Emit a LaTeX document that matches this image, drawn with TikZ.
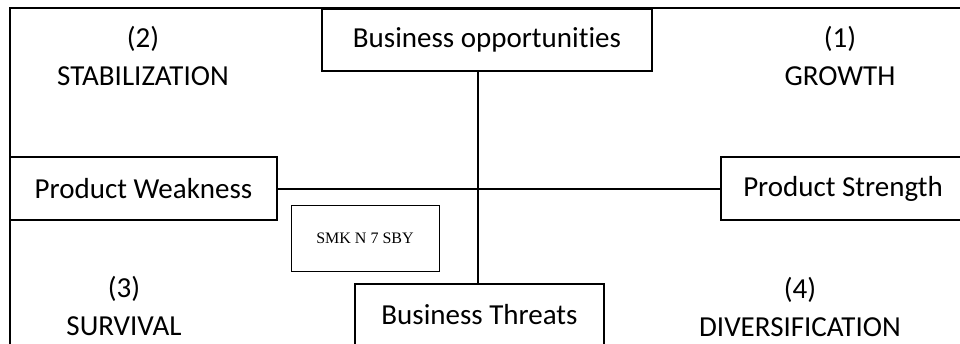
\documentclass[tikz,border=0pt]{standalone}
\usepackage{fontspec}
\setmainfont[Ligatures=NoCommon]{Carlito}
\newfontfamily\serifsmall{Liberation Serif}
\begin{document}
\begin{tikzpicture}[x=1pt,y=-1pt,
  box/.style={draw,line width=2pt,inner sep=0pt,font=\fontsize{29}{33}\selectfont},
  lbl/.style={align=center,inner sep=0pt,font=\fontsize{29}{38}\selectfont},
  line/.style={line width=2pt}]
\useasboundingbox (0,0) rectangle (960,343);
\clip (0,0) rectangle (960,343);
\coordinate (fb) at (10,400);
\coordinate (ftl) at (10,7.5);
\coordinate (ftr) at (1000,7.5);
\draw[line] (fb) -- (ftl) -- (ftr);
\node[box,minimum width=330pt,minimum height=62pt] (opp) at (487,40) {Business opportunities};
\node[box,minimum width=267pt,minimum height=63pt] (weak) at (143.5,188.5) {Product Weakness};
\node[box,minimum width=244pt,minimum height=63pt] (str) at (843,188.5) {Product Strength};
\node[box,minimum width=249pt,minimum height=62pt] (thr) at (479.5,315) {Business Threats};
\node[draw,line width=0.8pt,minimum width=148pt,minimum height=66pt,font=\serifsmall\fontsize{16}{19}\selectfont] (smk) at (365,238) {SMK N 7 SBY};
\draw[line] (opp.south -| 478,0) -- (thr.north -| 478,0);
\draw[line] (weak.east) -- (str.west);
\node[lbl] (q2) at (143,56) {(2)\\STABILIZATION};
\node[lbl] (q1) at (840,56) {(1)\\GROWTH};
\node[lbl] (q3) at (124,306) {(3)\\SURVIVAL};
\node[lbl] (q4) at (800,307) {(4)\\DIVERSIFICATION};
\end{tikzpicture}
\end{document}
